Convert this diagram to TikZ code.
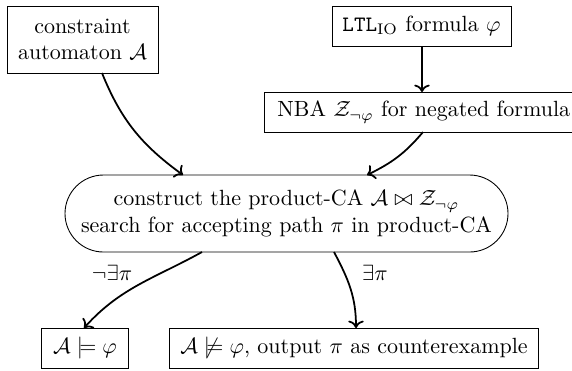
\documentclass[tikz,border=0pt]{standalone}
\usepackage{amsmath,amssymb}
\usetikzlibrary{shapes.misc,arrows.meta}
\begin{document}
\begin{tikzpicture}[x=0.4545pt,y=-0.4545pt,
  box/.style={draw,thin,align=center,inner sep=0pt},
  conn/.style={->,thick},
  lbl/.style={font=\normalsize}]
\useasboundingbox (0,0) rectangle (572,370);
\node[box,minimum width=151*0.4545pt,minimum height=67*0.4545pt] (ca) at (82.5,39.5) {constraint\\automaton $\mathcal{A}$};
\node[box,minimum width=179*0.4545pt,minimum height=40*0.4545pt] (ltl) at (421.5,26) {\texttt{LTL}$_{\mathrm{IO}}$ formula $\varphi$};
\node[box,anchor=west,inner xsep=13*0.4545pt,minimum height=40*0.4545pt] (nba) at (264,112) {NBA $\mathcal{Z}_{\neg\varphi}$ for negated formula};
\node[draw,thin,rounded rectangle,align=center,minimum width=443*0.4545pt,minimum height=77*0.4545pt,inner sep=0pt] (prod) at (286.5,213.5) {construct the product-CA $\mathcal{A}\bowtie\mathcal{Z}_{\neg\varphi}$\\search for accepting path $\pi$ in product-CA};
\node[box,minimum width=87*0.4545pt,minimum height=40*0.4545pt] (sat) at (85,348) {$\mathcal{A}\models\varphi$};
\node[box,minimum width=369*0.4545pt,minimum height=40*0.4545pt] (unsat) at (354,348) {$\mathcal{A}\not\models\varphi$, output $\pi$ as counterexample};
\coordinate (s1) at (102,73);
\coordinate (e1) at (183,175);
\draw[conn] (s1) to[out=-68,in=144] (e1);
\coordinate (s0) at (422,46);
\coordinate (e0) at (422,92);
\draw[conn] (s0) -- (e0);
\coordinate (s2) at (423,132);
\coordinate (e2) at (367,175);
\draw[conn] (s2) to[out=-130,in=26] (e2);
\coordinate (s3) at (202,252);
\coordinate (e3) at (84,328);
\draw[conn] (s3) to[out=-151,in=48] (e3);
\coordinate (s4) at (334,252);
\coordinate (e4) at (356,328);
\draw[conn] (s4) to[out=-62,in=90] (e4);
\node[lbl] (l1) at (112,273) {$\neg\exists\pi$};
\node[lbl] (l2) at (375,273) {$\exists\pi$};
\end{tikzpicture}
\end{document}
